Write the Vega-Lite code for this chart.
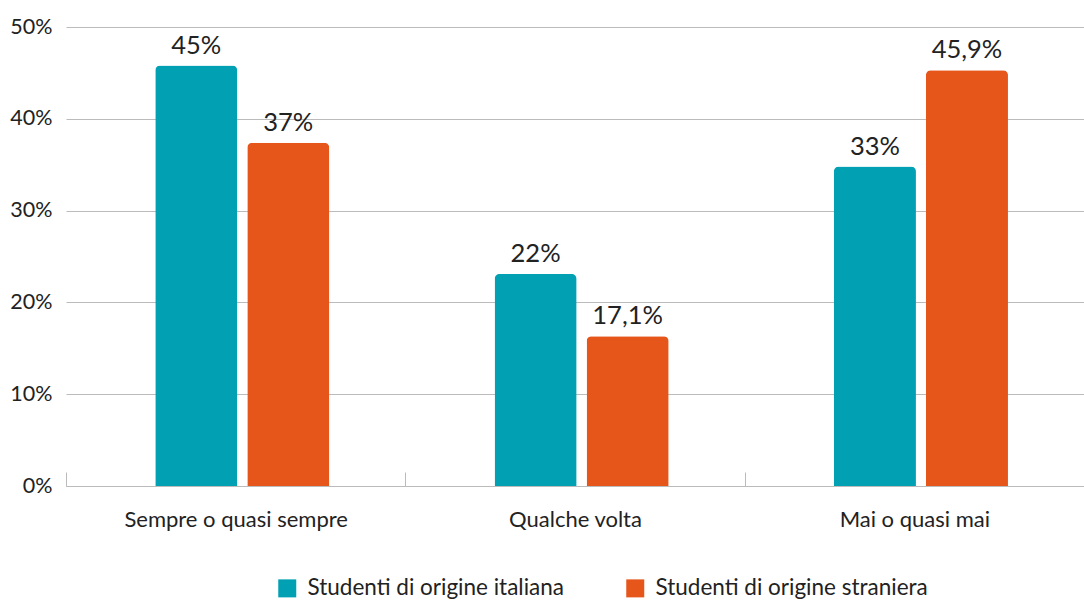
{
  "$schema": "https://vega.github.io/schema/vega-lite/v6.json",
  "autosize": {"type": "none"},
  "padding": {"left": 66, "top": 27, "right": 0, "bottom": 114},
  "width": 1018,
  "height": 459,
  "background": "white",
  "config": {
    "font": "Lato",
    "view": {"stroke": null}
  },
  "data": {
    "values": [
      {"categoria": "Sempre o quasi sempre", "gruppo": "Studenti di origine italiana", "valore": 45.8, "etichetta": "45%"},
      {"categoria": "Sempre o quasi sempre", "gruppo": "Studenti di origine straniera", "valore": 37.4, "etichetta": "37%"},
      {"categoria": "Qualche volta", "gruppo": "Studenti di origine italiana", "valore": 23.1, "etichetta": "22%"},
      {"categoria": "Qualche volta", "gruppo": "Studenti di origine straniera", "valore": 16.3, "etichetta": "17,1%"},
      {"categoria": "Mai o quasi mai", "gruppo": "Studenti di origine italiana", "valore": 34.8, "etichetta": "33%"},
      {"categoria": "Mai o quasi mai", "gruppo": "Studenti di origine straniera", "valore": 45.3, "etichetta": "45,9%"}
    ]
  },
  "encoding": {
    "x": {
      "field": "categoria",
      "type": "nominal",
      "sort": ["Sempre o quasi sempre", "Qualche volta", "Mai o quasi mai"],
      "scale": {"paddingInner": 0, "paddingOuter": 0},
      "axis": {
        "title": null,
        "labelAngle": 0,
        "labelFontSize": 22,
        "labelColor": "#222222",
        "labelPadding": 37,
        "labelLimit": 400,
        "domainColor": "#bbbbbb",
        "tickColor": "#bbbbbb",
        "tickBand": "extent",
        "tickSize": -14,
        "labelBaseline": "top"
      }
    },
    "xOffset": {
      "field": "gruppo",
      "type": "nominal",
      "scale": {"paddingInner": 0.1087, "paddingOuter": 0.898, "align": 0.54}
    },
    "y": {
      "field": "valore",
      "type": "quantitative",
      "scale": {"domain": [0, 50]},
      "axis": {
        "title": null,
        "values": [0, 10, 20, 30, 40, 50],
        "labelExpr": "datum.value + '%'",
        "labelFontSize": 21.5,
        "labelColor": "#222222",
        "labelPadding": 14,
        "domain": false,
        "ticks": false,
        "gridColor": "#bbbbbb",
        "gridWidth": 1
      }
    }
  },
  "layer": [
    {
      "mark": {"type": "bar", "cornerRadiusTopLeft": 5, "cornerRadiusTopRight": 5},
      "encoding": {
        "color": {
          "field": "gruppo",
          "type": "nominal",
          "scale": {"domain": ["Studenti di origine italiana", "Studenti di origine straniera"], "range": ["#01a0b3", "#e6551a"]},
          "legend": {
            "title": null,
            "orient": "none",
            "direction": "horizontal",
            "legendX": 210,
            "legendY": 550,
            "symbolType": "square",
            "symbolSize": 324,
            "symbolStrokeWidth": 0,
            "symbolOpacity": 1,
            "labelFontSize": 22.5,
            "labelOffset": 9,
            "labelColor": "#222222",
            "labelLimit": 400,
            "columnPadding": 60
          }
        }
      }
    },
    {
      "mark": {"type": "text", "baseline": "alphabetic", "dy": -12, "fontSize": 25.5, "color": "#222222"},
      "encoding": {
        "text": {"field": "etichetta"}
      }
    }
  ]
}
